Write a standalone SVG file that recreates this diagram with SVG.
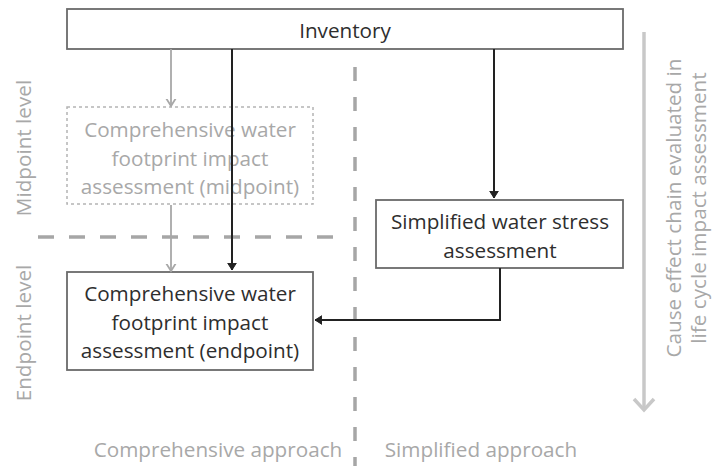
<svg xmlns="http://www.w3.org/2000/svg" width="712" height="466" viewBox="0 0 712 466">
<defs>
<style>
text{font-family:"Open Sans","DejaVu Sans",sans-serif;font-size:20.7px;text-anchor:middle}
.dk{fill:#2e2e2e}
.lt{fill:#a8a8a8}
.box{fill:#fff;stroke:#6a6a6a;stroke-width:1.8}
.mbox{fill:#fff;stroke:#b4b4b4;stroke-width:1.5;stroke-dasharray:3 3}
.blk{fill:none;stroke:#222;stroke-width:2}
.gry{fill:none;stroke:#a8a8a8;stroke-width:1.8}
.sep{fill:none;stroke:#a6a6a6;stroke-width:3.5}
</style>
<marker id="ab" markerUnits="userSpaceOnUse" markerWidth="14" markerHeight="14" viewBox="-7 -7 14 14" refX="0" refY="0" orient="auto">
<path d="M-8,-5 L0,0 L-8,5 L-6,0 Z" fill="#222" stroke="#222" stroke-width="1"/>
</marker>
<marker id="ag" markerUnits="userSpaceOnUse" markerWidth="14" markerHeight="14" viewBox="-7 -7 14 14" refX="0" refY="0" orient="auto">
<path d="M-8,-5 L0,0 L-8,5" fill="none" stroke="#a8a8a8" stroke-width="1.8"/>
</marker>
<marker id="abig" markerUnits="userSpaceOnUse" markerWidth="26" markerHeight="26" viewBox="-13 -13 26 26" refX="0" refY="0" orient="auto">
<path d="M-11,-10 L0,0 L-11,10" fill="none" stroke="#c8c8c8" stroke-width="3.5"/>
</marker>
</defs>
<rect width="712" height="466" fill="#fff"/>

<g id="separators">
<line class="sep" x1="38" y1="237" x2="346" y2="237" stroke-dasharray="16 15"/>
<line class="sep" x1="355" y1="67" x2="355" y2="466" stroke-dasharray="14 16"/>
</g>

<g id="inventory">
<rect class="box" x="67" y="9" width="556" height="40"/>
<text class="dk" x="345" y="38">Inventory</text>
</g>

<g id="midpoint">
<rect class="mbox" x="67" y="107" width="246" height="97"/>
<text class="lt" x="190" y="137">Comprehensive water</text>
<text class="lt" x="190" y="166">footprint impact</text>
<text class="lt" x="190" y="194">assessment (midpoint)</text>
</g>

<g id="endpoint">
<rect class="box" x="67" y="272" width="246" height="98"/>
<text class="dk" x="190" y="301">Comprehensive water</text>
<text class="dk" x="190" y="330">footprint impact</text>
<text class="dk" x="190" y="358">assessment (endpoint)</text>
</g>

<g id="simplified">
<rect class="box" x="376" y="200" width="247" height="68"/>
<text class="dk" x="500" y="229">Simplified water stress</text>
<text class="dk" x="500" y="258">assessment</text>
</g>

<g id="connectors">
<line class="gry" x1="171" y1="49" x2="171" y2="106" marker-end="url(#ag)"/>
<line class="gry" x1="171" y1="205" x2="171" y2="271" marker-end="url(#ag)"/>
<line class="blk" x1="232" y1="49" x2="232" y2="270" marker-end="url(#ab)"/>
<line class="blk" x1="494" y1="49" x2="494" y2="198" marker-end="url(#ab)"/>
<polyline class="blk" points="500,268 500,320 315,320" marker-end="url(#ab)"/>
</g>

<g id="causeeffect">
<line x1="644" y1="32" x2="644" y2="410" stroke="#c8c8c8" stroke-width="3.5" marker-end="url(#abig)"/>
<text class="lt" transform="translate(681,208) rotate(-90)">Cause effect chain evaluated in</text>
<text class="lt" transform="translate(706,208) rotate(-90)">life cycle impact assessment</text>
</g>

<g id="labels">
<text class="lt" transform="translate(31,148) rotate(-90)">Midpoint level</text>
<text class="lt" transform="translate(31,333) rotate(-90)">Endpoint level</text>
<text class="lt" x="218" y="457">Comprehensive approach</text>
<text class="lt" x="481" y="457">Simplified approach</text>
</g>
</svg>
